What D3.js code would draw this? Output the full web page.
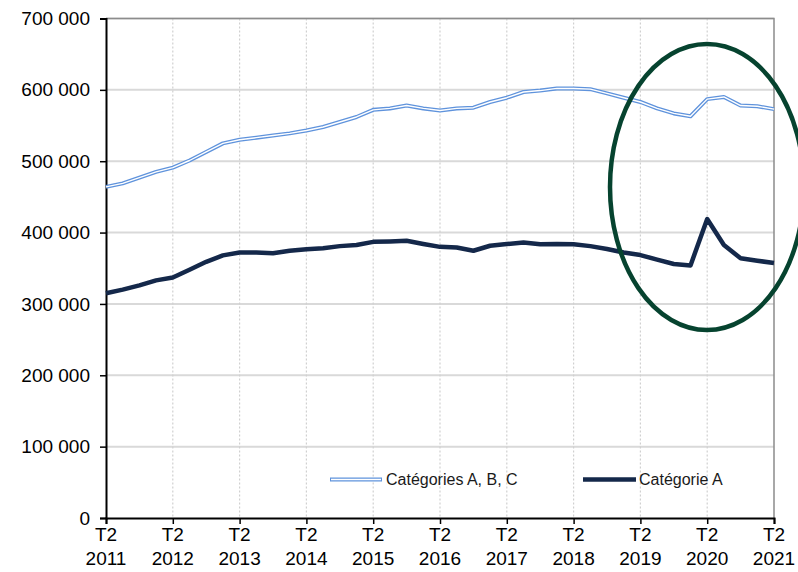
<!DOCTYPE html>
<html><head><meta charset="utf-8">
<script src="https://cdn.jsdelivr.net/npm/d3@7"></script>
<style>
html,body{margin:0;padding:0;background:#fff;}
svg{display:block;font-family:"Liberation Sans",Arial,sans-serif;}
</style></head>
<body><svg id="c" width="798" height="572"></svg>
<script>
const yearLabels = ["2011","2012","2013","2014","2015","2016","2017","2018","2019","2020","2021"];
const quarterLabel = "T2";
const yTicks = [0,100000,200000,300000,400000,500000,600000,700000];
const seriesNames = ["Catégories A, B, C","Catégorie A"];
const catABC = [464000,469000,477000,485000,491000,501000,513000,525000,530000,533000,536000,539000,543000,548000,555000,562000,572000,574000,578000,574000,571000,574000,575000,583000,589000,597000,599000,602000,602000,601000,595000,589000,583000,574000,567000,563000,587000,590000,578000,577000,573000];
const catA = [315000,320000,326000,333000,337000,348000,359000,368000,372000,372000,371000,374500,376500,378000,381000,382500,387000,387500,388500,384000,380000,379000,374500,381500,384000,386000,383500,384000,383500,381000,377000,372000,368500,362000,356000,354000,419000,382500,364000,360500,357500];

const svg = d3.select("#c");
const L=106, R=774, T=18.5, B=518;
const x = d3.scaleLinear().domain([0, catABC.length-1]).range([L,R]);
const y = d3.scaleLinear().domain([0,700000]).range([B,T]);

// horizontal grid
svg.append("g").selectAll("line").data(yTicks.slice(1)).join("line")
  .attr("x1",L).attr("x2",R).attr("y1",d=>y(d)).attr("y2",d=>y(d))
  .attr("stroke","#d9d9d9").attr("stroke-width",2);
// vertical dotted grid
svg.append("g").selectAll("line").data(d3.range(1,yearLabels.length-1)).join("line")
  .attr("x1",d=>x(d*4)).attr("x2",d=>x(d*4)).attr("y1",T).attr("y2",B)
  .attr("stroke","#d0d0d0").attr("stroke-width",1.2).attr("stroke-dasharray","2,2");
// border top/right
svg.append("path").attr("d",`M${L},${T}H${R}V${B}`).attr("fill","none").attr("stroke","#8c8c8c").attr("stroke-width",1.5);

// y axis
const yAxis = d3.axisLeft(y).tickValues(yTicks).tickSize(6).tickPadding(10)
  .tickFormat(d=>d===0?"0":d3.format(",")(d).replace(/,/g," "));
const gy = svg.append("g").attr("transform",`translate(${L},0)`).call(yAxis);
gy.select(".domain").attr("stroke","#000").attr("stroke-width",2);
gy.selectAll(".tick line").attr("stroke","#000").attr("stroke-width",1.5);
gy.selectAll("text").attr("font-size",19).attr("fill","#000").attr("font-family","'Liberation Sans',Arial,sans-serif");

// x axis
const xAxis = d3.axisBottom(x).tickValues(d3.range(0,catABC.length,4)).tickSize(6).tickFormat("");
const gx = svg.append("g").attr("transform",`translate(0,${B})`).call(xAxis);
gx.select(".domain").attr("stroke","#000").attr("stroke-width",2);
gx.selectAll(".tick line").attr("stroke","#000").attr("stroke-width",1.5);
const xl = svg.append("g").selectAll("text").data(yearLabels).join("text")
  .attr("x",(d,i)=>x(i*4)).attr("text-anchor","middle")
  .attr("font-size",19).attr("fill","#000")
  .attr("font-family","'Liberation Sans Narrow','Liberation Sans',Arial,sans-serif");
xl.append("tspan").attr("x",(d,i)=>x(i*4)).attr("y",541).text(quarterLabel);
xl.append("tspan").attr("x",(d,i)=>x(i*4)).attr("y",565).text(d=>d);

// lines
const line = d3.line().x((d,i)=>x(i)).y(d=>y(d));
svg.append("path").datum(catABC).attr("d",line).attr("fill","none").attr("stroke","#5f93dc").attr("stroke-width",4).attr("stroke-linejoin","round");
svg.append("path").datum(catABC).attr("d",line).attr("fill","none").attr("stroke","#ffffff").attr("stroke-width",1.4).attr("stroke-linejoin","round");
svg.append("path").datum(catA).attr("d",line).attr("fill","none").attr("stroke","#14284a").attr("stroke-width",4.5).attr("stroke-linejoin","round");

// legend
const lg = svg.append("g").attr("font-size",16).attr("fill","#1a1a1a");
lg.append("line").attr("x1",330).attr("x2",382).attr("y1",479.5).attr("y2",479.5).attr("stroke","#5f93dc").attr("stroke-width",4);
lg.append("line").attr("x1",331).attr("x2",381).attr("y1",479.5).attr("y2",479.5).attr("stroke","#fff").attr("stroke-width",1.4);
lg.append("text").attr("x",386).attr("y",485).text(seriesNames[0]);
lg.append("line").attr("x1",583).attr("x2",636).attr("y1",479.5).attr("y2",479.5).attr("stroke","#14284a").attr("stroke-width",4.5);
lg.append("text").attr("x",639).attr("y",485).text(seriesNames[1]);

// ellipse annotation
svg.append("ellipse").attr("cx",707).attr("cy",187).attr("rx",97).attr("ry",143)
  .attr("fill","none").attr("stroke","#06432f").attr("stroke-width",4.5);
</script></body></html>
